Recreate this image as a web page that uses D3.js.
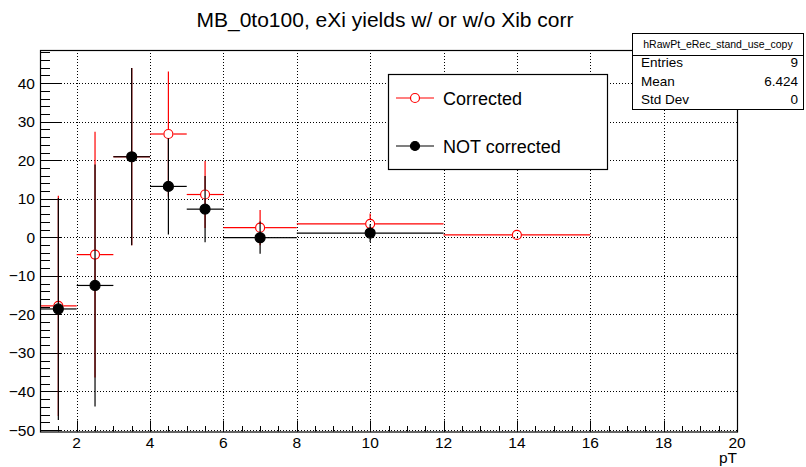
<!DOCTYPE html>
<html>
<head>
<meta charset="utf-8">
<script src="https://cdn.jsdelivr.net/npm/d3@7/dist/d3.min.js"></script>
<style>
  html, body { margin: 0; padding: 0; background: #fff; }
  svg { display: block; font-family: "Liberation Sans", Arial, Helvetica, sans-serif; }
</style>
</head>
<body>
<svg id="chart" width="806" height="467"></svg>
<script>
// ---- data ----
const binEdges = [1, 2, 3, 4, 5, 6, 8, 12, 16];
const corrected = [-17.8, -4.5, 20.9, 26.8, 11.1, 2.5, 3.5, 0.6];
const correctedErr = [28.6, 31.9, 23.0, 16.2, 8.7, 4.6, 2.7, 0.5];
const notCorrected = [-18.6, -12.5, 20.9, 13.2, 7.3, -0.1, 1.1, null];
const notCorrectedErr = [28.8, 31.4, 23.0, 12.5, 8.6, 4.2, 2.3, null];
const xTicks = [2, 4, 6, 8, 10, 12, 14, 16, 18, 20];
const yTicks = [-50, -40, -30, -20, -10, 0, 10, 20, 30, 40];
const legendLabels = ["Corrected", "NOT corrected"];
const statsTitle = "hRawPt_eRec_stand_use_copy";
const statsNames = ["Entries", "Mean", "Std Dev"];
const statsValues = ["9", "6.424", "0"];
const chartTitle = "MB_0to100, eXi yields w/ or w/o Xib corr";
const xTitle = "pT";

// ---- layout ----
const svg = d3.select("#chart");
const L = 40, R = 737, T = 50, B = 431.5;
const x = d3.scaleLinear().domain([1, 20]).range([L, R]);
const y = d3.scaleLinear().domain([-50.4, 48.6]).range([B, T]);

svg.append("rect").attr("width", 806).attr("height", 467).attr("fill", "#fff");

// grid
const grid = svg.append("g").attr("stroke", "#000").attr("stroke-width", 1).attr("stroke-dasharray", "1,2");
xTicks.filter(t => t < 20).forEach(t => {
  grid.append("line").attr("x1", Math.round(x(t)) + 0.5).attr("x2", Math.round(x(t)) + 0.5)
    .attr("y1", T).attr("y2", B);
});
yTicks.forEach(t => {
  grid.append("line").attr("y1", Math.round(y(t)) + 0.5).attr("y2", Math.round(y(t)) + 0.5)
    .attr("x1", L).attr("x2", R);
});

// ticks
const tk = svg.append("g").attr("stroke", "#000").attr("stroke-width", 1);
for (let v = -50; v <= 48; v += 2) {
  const major = v % 10 === 0;
  const yy = Math.round(y(v)) + 0.5;
  tk.append("line").attr("x1", L).attr("x2", L + (major ? 21 : 10)).attr("y1", yy).attr("y2", yy);
}
for (let v = 1.5; v <= 20; v += 0.5) {
  const major = v % 2 === 0;
  const xx = Math.round(x(v)) + 0.5;
  tk.append("line").attr("y1", B).attr("y2", B - (major ? 11 : 5.5)).attr("x1", xx).attr("x2", xx);
}

// tick labels
svg.append("g").selectAll("text").data(yTicks).join("text")
  .attr("x", 35).attr("y", d => y(d)).attr("dy", "0.36em")
  .attr("text-anchor", "end").attr("font-size", 15.5)
  .text(d => d < 0 ? "\u2212" + Math.abs(d) : d);
svg.append("g").selectAll("text").data(xTicks).join("text")
  .attr("x", d => x(d)).attr("y", 447.5)
  .attr("text-anchor", "middle").attr("font-size", 15.5)
  .text(d => d);

svg.append("text").attr("x", R).attr("y", 462.5).attr("text-anchor", "end")
  .attr("font-size", 15.5).text(xTitle);

// data drawing
function drawSeries(vals, errs, color, filled) {
  const g = svg.append("g").attr("stroke", color).attr("stroke-width", 1.2);
  const r = 5;
  vals.forEach((v, i) => {
    if (v === null) return;
    const x0 = x(binEdges[i]), x1 = x(binEdges[i + 1]);
    const xc = x((binEdges[i] + binEdges[i + 1]) / 2);
    const yc = y(v);
    const yt = y(v + errs[i]), yb = y(v - errs[i]);
    // horizontal
    if (xc - r > x0) g.append("line").attr("x1", x0).attr("x2", xc - r).attr("y1", yc).attr("y2", yc);
    g.append("line").attr("x1", xc + r).attr("x2", x1).attr("y1", yc).attr("y2", yc);
    // vertical
    if (yc - r > yt) g.append("line").attr("x1", xc).attr("x2", xc).attr("y1", yt).attr("y2", yc - r);
    if (yb > yc + r) g.append("line").attr("x1", xc).attr("x2", xc).attr("y1", yc + r).attr("y2", Math.min(yb, B));
    g.append("circle").attr("cx", xc).attr("cy", yc).attr("r", filled ? r : r - 0.5)
      .attr("fill", filled ? color : "none").attr("stroke-width", 1.2);
  });
}
drawSeries(corrected, correctedErr, "#ff0000", false);
drawSeries(notCorrected, notCorrectedErr, "#000000", true);

// frame
svg.append("rect").attr("x", L + 0.5).attr("y", T + 0.5).attr("width", R - L).attr("height", B - T)
  .attr("fill", "none").attr("stroke", "#000").attr("stroke-width", 1.2);

// title
svg.append("text").attr("x", 385).attr("y", 27).attr("text-anchor", "middle")
  .attr("font-size", 21).text(chartTitle);

// legend
const lg = svg.append("g");
lg.append("rect").attr("x", 388.5).attr("y", 74.5).attr("width", 219).attr("height", 95)
  .attr("fill", "#fff").attr("stroke", "#000").attr("stroke-width", 1.2);
const legendColors = ["#ff0000", "#000000"];
const legendY = [98, 146];
legendLabels.forEach((lab, i) => {
  lg.append("line").attr("x1", 396).attr("x2", 434).attr("y1", legendY[i]).attr("y2", legendY[i])
    .attr("stroke", legendColors[i]).attr("stroke-width", 1.2);
  lg.append("circle").attr("cx", 415).attr("cy", legendY[i]).attr("r", i === 0 ? 4.5 : 4.5)
    .attr("fill", i === 0 ? "#fff" : "#000").attr("stroke", legendColors[i]).attr("stroke-width", 1.2);
  lg.append("text").attr("x", 443).attr("y", legendY[i] + 6.5).attr("font-size", 18).text(lab);
});

// stats box
const sb = svg.append("g");
sb.append("rect").attr("x", 632.5).attr("y", 33.5).attr("width", 171).attr("height", 76)
  .attr("fill", "#fff").attr("stroke", "#000").attr("stroke-width", 1);
sb.append("line").attr("x1", 632.5).attr("x2", 803.5).attr("y1", 55.5).attr("y2", 55.5)
  .attr("stroke", "#000").attr("stroke-width", 1);
sb.append("text").attr("x", 718).attr("y", 48).attr("text-anchor", "middle").attr("font-size", 10.5)
  .text(statsTitle);
const rowY = [67, 85.5, 104];
statsNames.forEach((n, i) => {
  sb.append("text").attr("x", 641).attr("y", rowY[i]).attr("font-size", 13.5).text(n);
  sb.append("text").attr("x", 798).attr("y", rowY[i]).attr("text-anchor", "end").attr("font-size", 13.5).text(statsValues[i]);
});
</script>
</body>
</html>
